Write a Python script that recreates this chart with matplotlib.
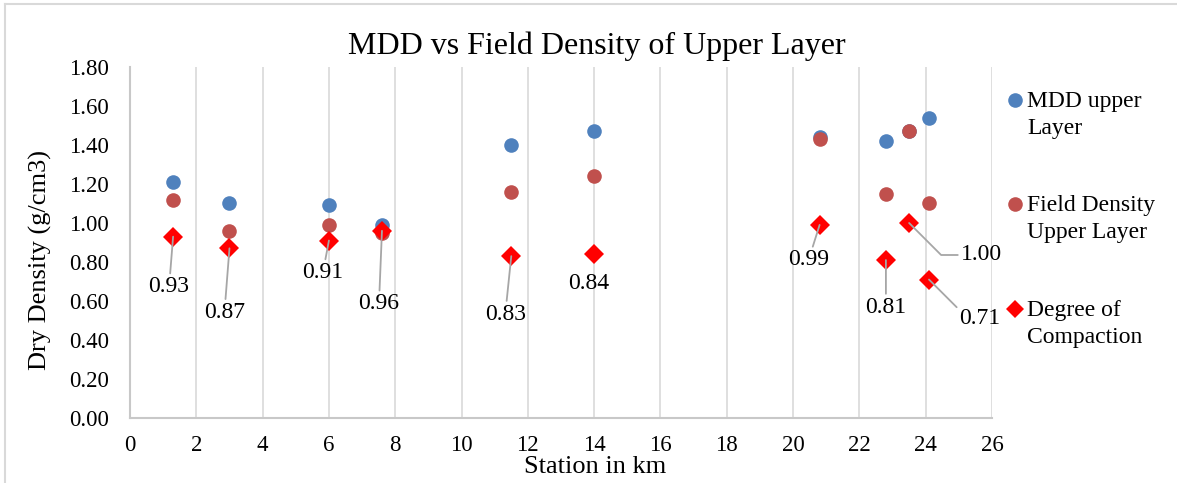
import matplotlib
matplotlib.use("Agg")
import matplotlib.pyplot as plt
from matplotlib.lines import Line2D

plt.rcParams['font.family'] = ['Liberation Serif', 'DejaVu Serif']

# Station chainage (km) and measured densities (g/cm3)
station = [1.3, 3.0, 6.0, 7.6, 11.5, 14.0, 20.8, 22.8, 23.5, 24.1]
mdd_upper = [1.21, 1.10, 1.09, 0.99, 1.40, 1.47, 1.44, 1.42, 1.47, 1.54]
field_upper = [1.12, 0.96, 0.99, 0.95, 1.16, 1.24, 1.43, 1.15, 1.47, 1.10]
compaction = [0.93, 0.87, 0.91, 0.96, 0.83, 0.84, 0.99, 0.81, 1.00, 0.71]

series_names = ["MDD upper\nLayer", "Field Density\nUpper Layer", "Degree of\nCompaction"]
x_ticks = list(range(0, 27, 2))
y_ticks = [0.0, 0.2, 0.4, 0.6, 0.8, 1.0, 1.2, 1.4, 1.6, 1.8]

BLUE = "#4F81BD"
RED = "#C0504D"
BRIGHT = "#FF0000"
GRID = "#D9D9D9"
LEADER = "#A6A6A6"

W, H = 1177, 483
fig = plt.figure(figsize=(W / 100, H / 100), dpi=100)
fig.patch.set_facecolor("white")

# plot area in pixels
left_px, right_px, top_px, bottom_px = 130, 992, 67, 418
ax = fig.add_axes([left_px / W, 1 - bottom_px / H,
                   (right_px - left_px) / W, (bottom_px - top_px) / H])

ax.scatter(station, mdd_upper, s=10.5 ** 2, color=BLUE, zorder=3, linewidths=0)
ax.scatter(station, field_upper, s=10.5 ** 2, color=RED, zorder=4, linewidths=0)
ax.plot(station, compaction, linestyle="none", marker="D", markersize=10.5,
        color=BRIGHT, markeredgewidth=0, zorder=5)

ax.set_xlim(0, 26)
ax.set_ylim(0, 1.8)
ax.set_xticks(x_ticks)
ax.set_yticks(y_ticks)
ax.set_yticklabels([f"{v:.2f}" for v in y_ticks])
ax.tick_params(axis="both", length=0, labelsize=16.5, colors="black")
ax.tick_params(axis="y", pad=15)
ax.tick_params(axis="x", pad=12)

ax.grid(axis="x", color=GRID, linewidth=1.2)
ax.set_axisbelow(True)
for side in ("top", "right"):
    ax.spines[side].set_visible(False)
for side in ("left", "bottom"):
    ax.spines[side].set_color("#C8C8C8")
    ax.spines[side].set_linewidth(1.5)

# data labels for degree of compaction: (dx, dy) in pixels, leader style
label_offsets = [(-4, -50), (-5, -64), (-6, -32), (-3, -73), (-6, -58),
                 (-5, -29), (-11, -35), (0, -47), (72, -32), (51, -39)]
leader_kind = ["line", "line", "line", "line", "line",
               None, "line", "line", "elbow", "elbow"]

for xv, yv, (dx, dy), kind in zip(station, compaction, label_offsets, leader_kind):
    props = None
    if kind == "line":
        props = dict(arrowstyle="-", color=LEADER, lw=1.3, shrinkA=0, shrinkB=0)
    elif kind == "elbow":
        props = dict(arrowstyle="-", color=LEADER, lw=1.3, shrinkA=0, shrinkB=0,
                     relpos=(0.0, 0.5),
                     connectionstyle="angle,angleA=0,angleB=135,rad=0")
    ax.annotate(f"{yv:.2f}", xy=(xv, yv), xytext=(dx, dy),
                textcoords="offset pixels", ha="center", va="center",
                fontsize=17, arrowprops=props, zorder=6,
                annotation_clip=False)

# title and axis titles
fig.text(597 / W, 1 - 46 / H, "MDD vs Field Density of Upper Layer",
         ha="center", va="center", fontsize=23)
fig.text(595 / W, 1 - 467 / H, "Station in km", ha="center", va="center",
         fontsize=19)
fig.text(40 / W, 1 - 260 / H, "Dry Density (g/cm3)", ha="center", va="center",
         rotation=90, fontsize=19)

# legend with markers aligned to the first line of each label
legend_markers = [("o", BLUE, 10.5), ("o", RED, 10.5), ("D", BRIGHT, 9)]
legend_rows = [100, 204, 309]
for (mk, col, ms), name, row in zip(legend_markers, series_names, legend_rows):
    fig.add_artist(Line2D([1015 / W], [1 - row / H], marker=mk, color=col,
                          markersize=ms, markeredgewidth=0, linestyle="none",
                          transform=fig.transFigure))
    fig.text(1027 / W, 1 - (row - 9) / H, name, ha="left", va="top",
             fontsize=17, linespacing=1.35)

# chart frame
fig.add_artist(Line2D([5 / W, 5 / W], [0, 1 - 4 / H], color=GRID, lw=1.5,
                      transform=fig.transFigure))
fig.add_artist(Line2D([5 / W, 1], [1 - 4 / H, 1 - 4 / H], color=GRID, lw=1.5,
                      transform=fig.transFigure))

fig.savefig("out.png", dpi=100, facecolor="white")
